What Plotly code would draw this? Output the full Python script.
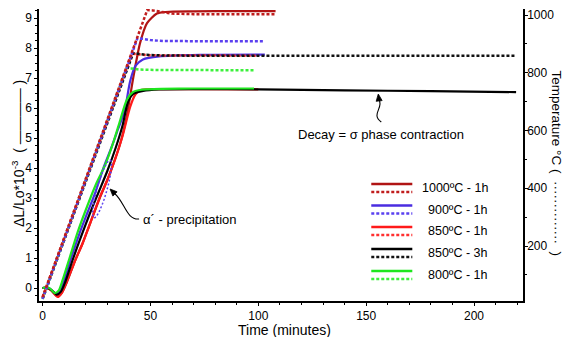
import math
import plotly.graph_objects as go

# ---------------- data ----------------
# dilatation curves  dL/Lo * 1e-3  (left axis)
t_1000 = [0, 2, 4, 7, 9, 11, 15, 18.6, 22, 26.5, 30, 33.5, 36.5, 39.2, 42, 45.2, 48.4, 53, 57, 70, 90, 108]
v_1000 = [0, 0, -0.08, -0.28, -0.15, 0.15, 0.9, 1.5, 2.15, 3.0, 3.6, 4.27, 4.95, 5.8, 7.0, 8.17, 8.83, 9.15, 9.2, 9.22, 9.23, 9.23]

t_900 = [0, 2, 3.5, 6, 8, 10, 13, 17, 21, 24.5, 28.2, 32, 35, 38, 40.6, 43, 46.5, 54, 73, 103]
v_900 = [0, 0.02, -0.03, -0.2, -0.08, 0.25, 0.95, 1.8, 2.55, 3.2, 4.0, 4.7, 5.3, 5.9, 6.9, 7.4, 7.62, 7.72, 7.77, 7.78]

t_850a = [0, 2, 4, 7, 9, 11, 15, 18.6, 22, 26.5, 30, 33.5, 37, 40.6, 43, 45, 48, 55, 70, 100]
v_850a = [0, 0, -0.08, -0.3, -0.15, 0.17, 0.9, 1.5, 2.15, 3.03, 3.6, 4.27, 5.05, 6.04, 6.45, 6.58, 6.62, 6.63, 6.63, 6.62]

t_850b = [0, 2, 4, 6.5, 8.5, 10.5, 14, 18, 22, 26, 30, 34, 37, 39.6, 42, 46.6, 54, 70, 100, 140, 180, 219.5]
v_850b = [0, 0, -0.06, -0.22, -0.12, 0.2, 0.95, 1.75, 2.5, 3.2, 3.9, 4.7, 5.4, 6.2, 6.47, 6.57, 6.62, 6.63, 6.62, 6.59, 6.56, 6.53]

t_800 = [0, 2, 3.5, 5.6, 7.5, 9.3, 12.5, 16.3, 20, 25, 29, 33, 36, 39, 42, 45, 48.3, 55, 70, 98]
v_800 = [0, 0.02, -0.02, -0.17, -0.08, 0.27, 1.0, 1.87, 2.6, 3.5, 4.1, 4.9, 5.6, 6.27, 6.54, 6.6, 6.62, 6.64, 6.65, 6.65]

# temperature programmes  degC  (right axis)
tt_1000 = [0, 48.5, 51, 55, 60, 70, 90, 108]
T_1000 = [23, 1017, 1016, 1010, 1005, 1003, 1003, 1003]
tt_900 = [0, 44, 46, 50, 56, 65, 80, 103]
T_900 = [17, 920, 918, 913, 910, 909, 909, 909]
tt_850a = [0, 41.5, 44, 48, 55, 70, 100]
T_850a = [23, 866, 864, 861, 860, 859, 859]
tt_850b = [0, 42, 44, 48, 55, 70, 120, 170, 219.5]
T_850b = [18, 868, 866, 862, 860, 859, 859, 859, 859]
tt_800 = [0, 39, 41, 45, 50, 60, 80, 98]
T_800 = [16, 817, 815, 811, 810, 809, 809, 809]

labels = ["1000ºC - 1h", "900ºC - 1h", "850ºC - 1h", "850ºC - 3h", "800ºC - 1h"]
x_ticks = [0, 50, 100, 150, 200]
y_ticks = [0, 1, 2, 3, 4, 5, 6, 7, 8, 9]
y2_ticks = [200, 400, 600, 800, 1000]

# ---------------- styling ----------------
C_1000, C_1000d = "#b01414", "#c01c1c"
C_900, C_900d = "#4a2de0", "#5a40f0"
C_850a, C_850ad = "#ff1a1a", "#ff3030"
C_850b, C_850bd = "#000000", "#111111"
C_800, C_800d = "#1ee61e", "#3cf03c"
FONT = "Liberation Sans, Arial, sans-serif"
DOT = "3px,2px"

W, H = 564, 337
L, R, T, B = 39, 522.6, 9, 301


def px(x):
    return (x - L) / (R - L)


def py(y):
    return (B - y) / (B - T)


fig = go.Figure()

# dotted temperature curves (behind)
for tt, TT, col in [(tt_850a, T_850a, C_850ad), (tt_800, T_800, C_800d), (tt_850b, T_850b, C_850bd),
                    (tt_900, T_900, C_900d), (tt_1000, T_1000, C_1000d)]:
    fig.add_trace(go.Scatter(x=tt, y=TT, yaxis="y2", mode="lines",
                             line=dict(color=col, width=2.5, dash=DOT), hoverinfo="skip"))

# solid dilatation curves
for t, v, col in [(t_1000, v_1000, C_1000), (t_900, v_900, C_900), (t_850a, v_850a, C_850a),
                  (t_850b, v_850b, C_850b), (t_800, v_800, C_800)]:
    fig.add_trace(go.Scatter(x=t, y=v, mode="lines",
                             line=dict(color=col, width=2.2, shape="spline", smoothing=0.7),
                             hoverinfo="skip"))

axis_common = dict(showline=True, linecolor="black", linewidth=1.5, showgrid=False, zeroline=False,
                   ticks="outside", tickcolor="black", tickwidth=1.2,
                   tickfont=dict(family=FONT, size=12, color="black"))

fig.update_layout(
    width=W, height=H,
    margin=dict(l=L, r=W - R, t=T, b=H - B, autoexpand=False),
    paper_bgcolor="white", plot_bgcolor="white",
    showlegend=False,
    font=dict(family=FONT, color="black"),
    xaxis=dict(range=[-1.67, 222.7], tickvals=x_ticks, ticklen=3, ticklabelstandoff=0,
               minor=dict(dtick=10, tick0=0, ticklen=2, ticks="outside", tickcolor="black", tickwidth=1),
               **axis_common),
    yaxis=dict(range=[-0.433, 9.3], tickvals=y_ticks, ticklen=3,
               minor=dict(dtick=0.25, tick0=0, ticklen=2, ticks="outside", tickcolor="black", tickwidth=1),
               **axis_common),
    yaxis2=dict(range=[9.5, 1020.8], overlaying="y", side="right", tickvals=y2_ticks, ticklen=3,
                ticklabelstandoff=-3,
                minor=dict(dtick=100, tick0=0, ticklen=2, ticks="outside", tickcolor="black", tickwidth=1),
                **axis_common),
)

ann = []


def label(text, x, y, size, angle=0, xanchor="center"):
    ann.append(dict(text=text, x=px(x), y=py(y), xref="paper", yref="paper", showarrow=False,
                    textangle=angle, xanchor=xanchor, yanchor="middle", font=dict(size=size)))


# axis titles
label("Time (minutes)", 284, 330, 14)
label("ΔL/Lo*10<sup>-3</sup>  ( ———— )", 18, 153, 14, angle=-90)
label("Temperature °C (  ··············  )", 557, 163, 13.5, angle=90)
# text annotations
label("α´ - precipitation", 141, 219, 13, xanchor="left")
label("Decay = σ phase contraction", 296, 134, 13, xanchor="left")

shapes = []


def arrow_head(tip, tail, length=7, half=3):
    dx, dy = tip[0] - tail[0], tip[1] - tail[1]
    n = math.hypot(dx, dy)
    dx, dy = dx / n, dy / n
    bx, by = tip[0] - dx * length, tip[1] - dy * length
    p1 = (bx - dy * half, by + dx * half)
    p2 = (bx + dy * half, by - dx * half)
    path = (f"M {px(tip[0])},{py(tip[1])} L {px(p1[0])},{py(p1[1])} "
            f"L {px(p2[0])},{py(p2[1])} Z")
    shapes.append(dict(type="path", xref="paper", yref="paper", path=path,
                       fillcolor="black", line=dict(color="black", width=0.8)))


# curved arrow shafts + heads
shapes.append(dict(type="path", xref="paper", yref="paper",
                   path=f"M {px(139)},{py(219)} C {px(126)},{py(220)} {px(125)},{py(202)} {px(114)},{py(193)}",
                   line=dict(color="black", width=1.1)))
arrow_head((110, 189), (116, 195))
shapes.append(dict(type="path", xref="paper", yref="paper",
                   path=f"M {px(381)},{py(122)} C {px(370)},{py(114)} {px(384)},{py(108)} {px(378.6)},{py(99)}",
                   line=dict(color="black", width=1.1)))
arrow_head((378, 94), (379, 102))

# dotted loop marking the alpha' precipitation
cx, cy, a, b = 102, 189, 30, 5
ux, uy = 16, -57
n = math.hypot(ux, uy)
ux, uy = ux / n, uy / n
pts = []
for k in range(41):
    th = 2 * math.pi * k / 40
    ex = cx + a * math.cos(th) * ux - b * math.sin(th) * uy
    ey = cy + a * math.cos(th) * uy + b * math.sin(th) * ux
    pts.append(f"{px(ex)},{py(ey)}")
shapes.append(dict(type="path", xref="paper", yref="paper", path="M " + " L ".join(pts) + " Z",
                   line=dict(color=C_900d, width=1.5, dash="2px,2px")))

# manual legend (solid + dotted sample per entry)
leg_cols = [(C_1000, C_1000d), (C_900, C_900d), (C_850a, C_850ad), (C_850b, C_850bd), (C_800, C_800d)]
row_y = [184, 205.5, 227, 249, 271]
for lab, (cs, cd), yy in zip(labels, leg_cols, row_y):
    shapes.append(dict(type="line", xref="paper", yref="paper", x0=px(371), x1=px(412), y0=py(yy), y1=py(yy),
                       line=dict(color=cs, width=2.5)))
    shapes.append(dict(type="line", xref="paper", yref="paper", x0=px(371), x1=px(412), y0=py(yy + 8),
                       y1=py(yy + 8), line=dict(color=cd, width=2.5, dash=DOT)))
    label(lab, 490, yy + 4, 12.5, xanchor="right")

fig.update_layout(annotations=ann, shapes=shapes)
fig.write_html("out.html", config={"displayModeBar": False},
               post_script="document.body.style.margin='0px';document.body.style.overflow='hidden';")
